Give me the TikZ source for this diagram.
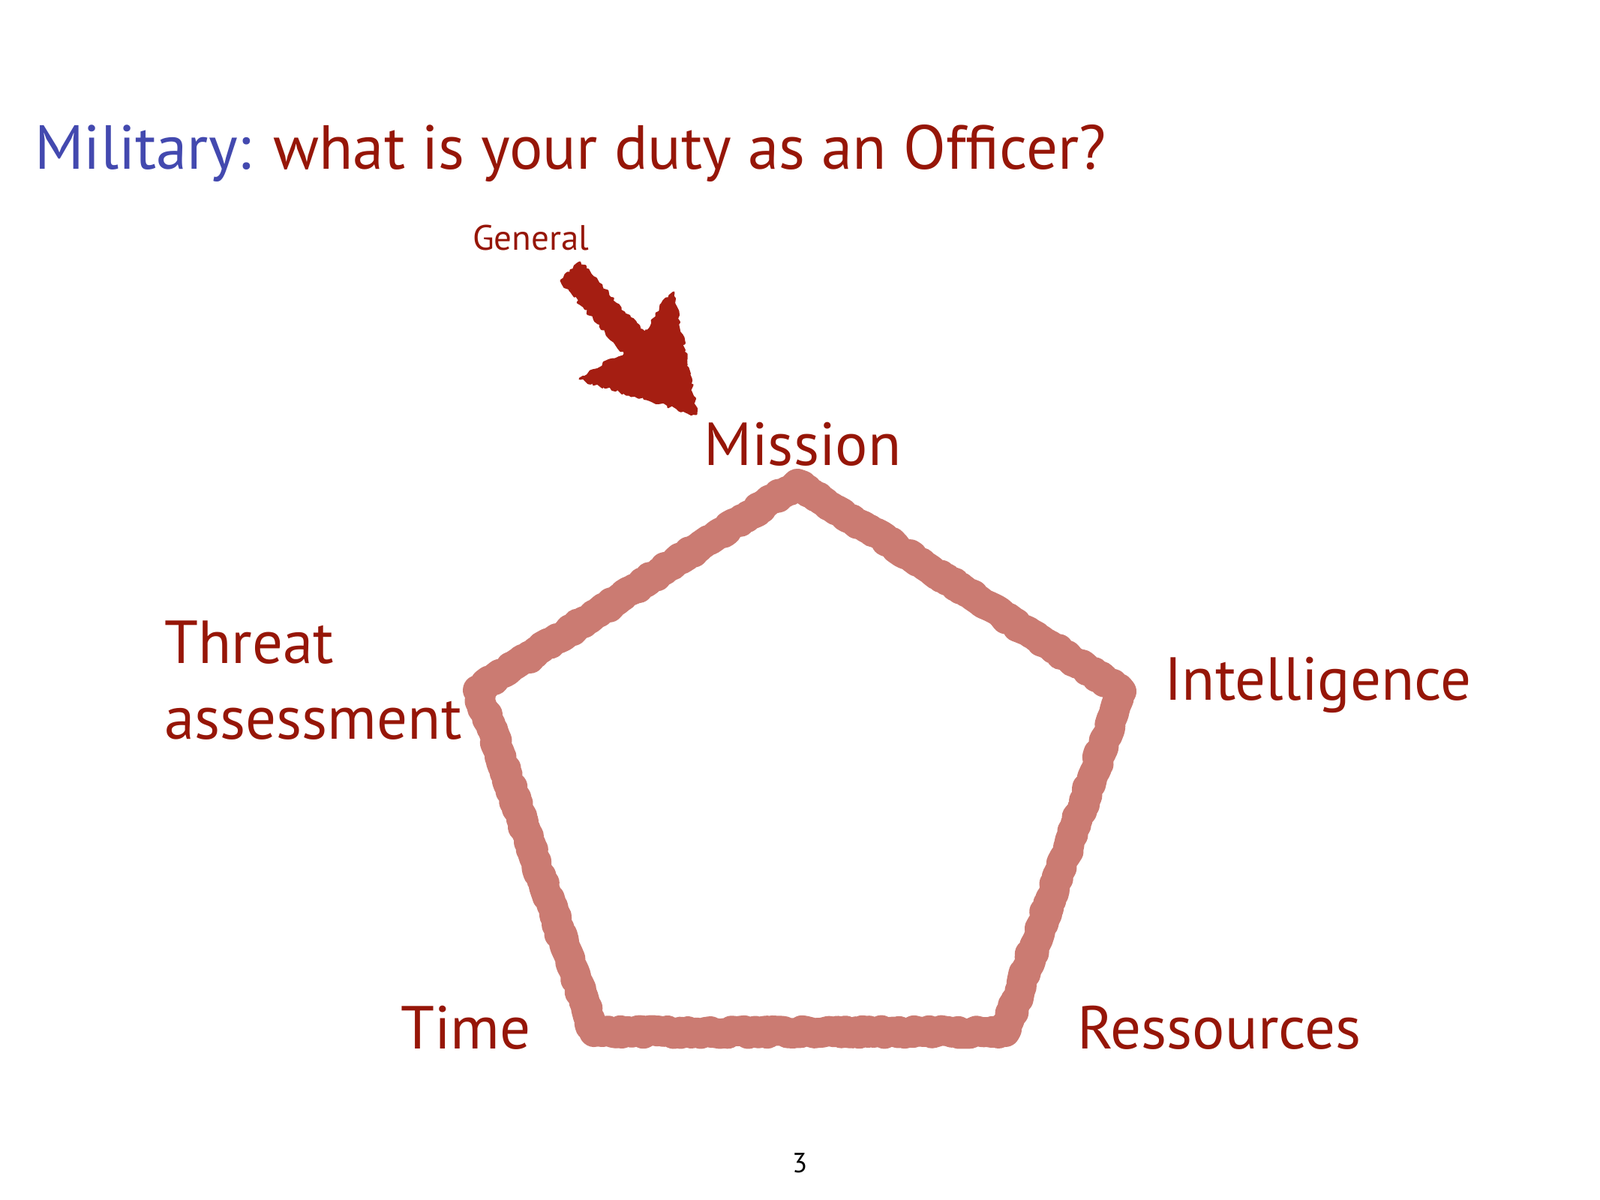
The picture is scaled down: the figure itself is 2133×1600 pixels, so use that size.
\documentclass[tikz,border=0pt]{standalone}
\usepackage{fontspec}
\setmainfont{PT Sans}
\usetikzlibrary{decorations.pathmorphing}
\definecolor{titleblue}{RGB}{67,73,175}
\definecolor{darkred}{RGB}{150,22,8}
\definecolor{arrowred}{RGB}{165,30,18}
\definecolor{chalk}{RGB}{203,123,114}
\begin{document}
\begin{tikzpicture}[x=1pt,y=-1pt,
  lbl/.style={anchor=base west,inner sep=0pt,text=darkred,font=\fontsize{81}{96}\selectfont},
  chalkline/.style={draw=chalk,line width=40pt,line join=round,line cap=round,
    decorate,decoration={random steps,segment length=5pt,amplitude=2.5pt}},
  brush/.style={fill=arrowred,draw=arrowred,line width=3pt,line join=round,
    decorate,decoration={random steps,segment length=4pt,amplitude=2.5pt}}]
\useasboundingbox (0,0) rectangle (2133,1600);
\fill[white] (0,0) rectangle (2133,1600);
% title
\node[anchor=base west,inner sep=0pt,font=\fontsize{83}{100}\selectfont] (title) at (46,225)
  {\textcolor{titleblue}{Military:} \textcolor{darkred}{what is your duty as an Officer?}};
% pentagon corners
\coordinate (pTop) at (1063,645);
\coordinate (pRight) at (1495,922);
\coordinate (pBR) at (1340,1376);
\coordinate (pBL) at (792,1376);
\coordinate (pLeft) at (637,920);
\draw[chalkline] (pTop) -- (pRight) -- (pBR) -- (pBL) -- (pLeft) -- cycle;
% labels
\node[lbl] (mission) at (938,620) {Mission};
\node[lbl] (intel) at (1552,933) {Intelligence};
\node[lbl] (threat) at (219,884) {Threat};
\node[lbl] (assess) at (219,985) {assessment};
\node[lbl] (time) at (534,1398) {Time};
\node[lbl] (ress) at (1436,1398) {Ressources};
\node[anchor=base west,inner sep=0pt,text=darkred,font=\fontsize{47}{56}\selectfont] (general) at (630,333) {General};
\node[anchor=base west,inner sep=0pt,text=black,font=\fontsize{37}{44}\selectfont] (page) at (1056,1563) {3};
% hand-drawn arrow from General to Mission
\coordinate (aT1) at (773,350);
\coordinate (aS1) at (860,447);
\coordinate (aR1) at (888,398);
\coordinate (aR2) at (898,390);
\coordinate (aTip) at (928,552);
\coordinate (aL1) at (773,505);
\coordinate (aL2) at (787,495);
\coordinate (aS2) at (833,472);
\coordinate (aT2) at (748,374);
\path[brush] (aT1) -- (aS1) -- (aR1) -- (aR2) -- (aTip) -- (aL1) -- (aL2) -- (aS2) -- (aT2) -- cycle;
\end{tikzpicture}
\end{document}
